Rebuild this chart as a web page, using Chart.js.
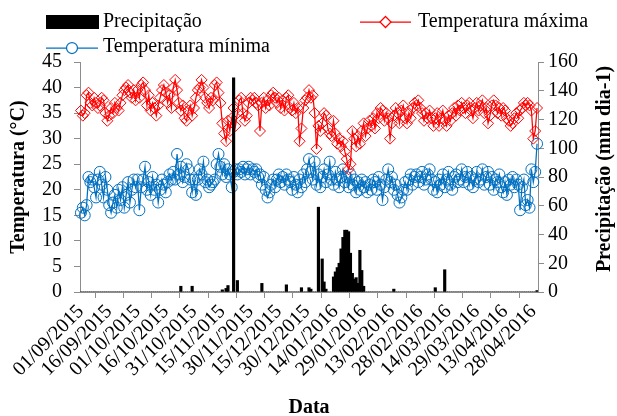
<!DOCTYPE html>
<html>
<head>
<meta charset="utf-8">
<script src="https://cdn.jsdelivr.net/npm/chart.js@4.4.0/dist/chart.umd.min.js"></script>
<style>
  html, body { margin: 0; padding: 0; background: #fff; }
  #wrap { width: 617px; height: 416px; }
</style>
</head>
<body>
<div id="wrap"><canvas id="chart" width="617" height="416"></canvas></div>
<script>
// daily series, 01/09/2015 -> 30/04/2016 (243 days), 15 values per row
const tMax = [
  35.5, 34.5, 35, 38.5, 39, 37, 36.5, 38, 37, 36, 36.5, 38, 37.5, 35, 33.5,
  34.5, 36, 35, 37, 36, 35.5, 37, 38.5, 39.5, 40, 40.5, 39, 38, 39.5, 37.5,
  39.5, 38, 40.5, 41, 39.5, 36.5, 38.5, 35.5, 37, 36, 34.5, 36.5, 38, 39.5, 40.5,
  39, 37, 38.5, 36, 40, 41.5, 39.5, 37, 35.5, 36.5, 34, 33.5, 35.5, 36.5, 34.5,
  36, 38, 39.5, 40, 41.5, 40, 38, 37, 36, 38, 37.5, 40.5, 41, 39, 37,
  33, 31, 29.5, 33.5, 31.5, 34, 36, 32.5, 35, 37.5, 38, 35, 33.5, 34.5, 37,
  38, 37.5, 38, 37, 36.5, 31.5, 37, 38, 36, 37.5, 36.5, 38.5, 39, 38, 37,
  38, 36, 37.5, 35.5, 38, 38.5, 36, 35.5, 37, 35, 36, 29.5, 32, 36, 37.5,
  38, 39.5, 38, 38.5, 35, 28, 32.5, 31.5, 33, 35, 34.5, 32, 31, 30.5, 33.5,
  31, 29, 30, 28.5, 29.5, 27.5, 26, 24, 25, 31.5, 30, 28.5, 30.5, 29, 31.5,
  33, 30.5, 32, 33.5, 32.5, 34, 32, 35, 34, 36, 35.5, 33.5, 35, 34, 30,
  33, 34.5, 36, 35, 33, 35.5, 36.5, 34, 33, 35, 34, 36, 37, 36.5, 37.5,
  36, 35, 33.5, 35, 34, 35.5, 34, 32.5, 34, 35, 32.5, 34, 35.5, 33.5, 32.5,
  34.5, 33.5, 35, 36, 34.5, 36.5, 35.5, 37, 36, 35, 36.5, 37, 35.5, 34, 36,
  37, 35.5, 36.5, 37.5, 35, 36, 33, 34.5, 36.5, 37.5, 36.5, 35, 36, 34.5, 36,
  35.5, 34, 33.5, 32.5, 33, 34, 35, 34, 35.5, 36, 37, 36.5, 37, 36.5, 35.5,
  30, 31.5, 36
];

const tMin = [
  15.5, 16.5, 15, 17, 22.5, 21.5, 22, 20.5, 18.5, 22, 23.5, 21, 18.5, 22.5, 20,
  17, 15.5, 17.5, 19, 16.5, 20, 18, 20.5, 16.5, 19, 21.5, 17.5, 20, 22, 20.5,
  22, 16, 20.5, 22, 24.5, 20, 21.5, 19, 22.5, 20, 21, 17.5, 20, 22, 21,
  19.5, 21.5, 23, 22, 23.5, 22, 27, 23, 24.5, 21.5, 22.5, 25, 24, 22, 19.5,
  22, 19, 22, 24, 23, 25.5, 21.5, 22, 20.5, 21, 21.5, 22, 25, 27, 24.5,
  23, 25, 22.5, 24, 23, 20.5, 23.5, 24, 23, 24, 23.5, 24.5, 23, 24, 24.5,
  23, 24, 23.5, 24, 22.5, 23, 21, 22.5, 20, 18.5, 19.5, 21, 22, 20.5, 22,
  23, 21.5, 22.5, 21, 23, 22, 21.5, 20, 22.5, 21, 19.5, 22, 20.5, 23, 21.5,
  24, 26, 23.5, 22, 25.5, 21, 23, 20.5, 22.5, 24, 21.5, 23, 25.5, 22, 21,
  23.5, 22, 20.5, 22.5, 24, 21.5, 22.5, 20.5, 23, 21, 22, 19.5, 21.5, 20, 22,
  20.5, 21.5, 19.5, 21, 20, 22, 21.5, 20, 22.5, 21, 18, 20.5, 22, 24, 21.5,
  22.5, 20, 21, 19, 17.5, 18.5, 20, 21.5, 20, 22, 23, 21, 22.5, 23, 21.5,
  22.5, 23.5, 21, 22, 23, 24, 22, 20, 21.5, 19.5, 22, 21, 23, 20.5, 22,
  23.5, 21, 20, 22.5, 23, 21.5, 22, 24, 21.5, 22.5, 23.5, 21, 22.5, 20.5, 22,
  23.5, 21.5, 22, 24, 21, 22.5, 23.5, 21, 22.5, 20, 22, 21.5, 23, 20.5, 19.5,
  21.5, 19, 22, 21, 22.5, 20.5, 22, 21, 16, 20.5, 22, 17, 18, 16.5, 24,
  21.5, 23.5, 29
];

const precip = [
  0, 0, 0, 0, 0, 0, 0, 0, 0, 0, 0, 0, 0, 0, 0,
  0, 0, 0, 0, 0, 0, 0, 0, 0, 0, 0, 0, 0, 0, 0,
  0, 0, 0, 0, 0, 0, 0, 0, 0, 0, 0, 0, 0, 0, 0,
  0, 0, 0, 0, 0, 0, 0, 0, 4, 0, 0, 0, 0, 0, 4,
  0, 0, 0, 0, 0, 0, 0, 0, 0, 0, 0, 0, 0, 0, 0,
  1.5, 0, 2.5, 4.5, 0, 0, 149, 0, 8, 0, 0, 0, 0, 0, 0,
  0, 0, 0, 0, 0, 0, 6, 0, 0, 0, 0, 0, 0, 0, 0,
  0, 0, 0, 0, 5, 0, 0, 0, 0, 0, 0, 0, 3, 0, 0,
  0, 3, 2, 0, 0, 0, 59, 0, 23, 7, 2, 0, 0, 0, 10.5,
  14, 17, 20, 30, 38, 43, 43, 42, 27, 13, 9, 10, 6, 29, 15,
  4, 0, 0, 0, 0, 0, 0, 0, 0, 0, 0, 0, 0, 0, 0,
  0, 2, 0, 0, 0, 0, 0, 0, 0, 0, 0, 0, 0, 0, 0,
  0, 0, 0, 0, 0, 0, 0, 0, 3, 0, 0, 0, 0, 15.5, 0,
  0, 0, 0, 0, 0, 0, 0, 0, 0, 0, 0, 0, 0, 0, 0,
  0, 0, 0, 0, 0, 0, 0, 0, 0, 0, 0, 0, 0, 0, 0,
  0, 0, 0, 0, 0, 0, 0, 0, 0, 0, 0, 0, 0, 0, 0,
  0, 0, 1
];

const tempTicks = [0, 5, 10, 15, 20, 25, 30, 35, 40, 45];
const precipTicks = [0, 20, 40, 60, 80, 100, 120, 140, 160];

// category labels dd/mm/yyyy, one per day
const dates = [];
const d0 = new Date(2015, 8, 1);
for (let i = 0; i < tMax.length; i++) {
  const d = new Date(d0.getFullYear(), d0.getMonth(), d0.getDate() + i);
  const dd = String(d.getDate()).padStart(2, "0");
  const mm = String(d.getMonth() + 1).padStart(2, "0");
  dates.push(`${dd}/${mm}/${d.getFullYear()}`);
}

/* =======================
   STYLE
======================= */
const FONT = "'Liberation Serif', 'Times New Roman', serif";
const RED = "#ff0000";
const BLUE = "#0070c0";
const AXIS = "#8c8c8c";

// legend + right axis title drawn by hand (Excel-like layout)
const extras = {
  id: "extras",
  afterDraw(chart) {
    const ctx = chart.ctx;
    ctx.save();
    ctx.font = `20px ${FONT}`;
    ctx.textBaseline = "middle";
    ctx.textAlign = "left";
    ctx.fillStyle = "#000";

    // Precipitação
    ctx.fillRect(46, 15, 53, 14);
    ctx.fillText("Precipitação", 103, 22);

    // Temperatura máxima
    ctx.strokeStyle = RED;
    ctx.lineWidth = 1.25;
    ctx.beginPath(); ctx.moveTo(360, 22); ctx.lineTo(411, 22); ctx.stroke();
    ctx.fillStyle = "#fff";
    ctx.beginPath();
    ctx.moveTo(385.5, 16.5); ctx.lineTo(391, 22); ctx.lineTo(385.5, 27.5); ctx.lineTo(380, 22);
    ctx.closePath(); ctx.fill(); ctx.stroke();
    ctx.fillStyle = "#000";
    ctx.fillText("Temperatura máxima", 418, 22);

    // Temperatura mínima
    ctx.strokeStyle = BLUE;
    ctx.beginPath(); ctx.moveTo(46, 48); ctx.lineTo(98, 48); ctx.stroke();
    ctx.fillStyle = "#fff";
    ctx.beginPath(); ctx.arc(72, 48, 5.5, 0, Math.PI * 2); ctx.fill(); ctx.stroke();
    ctx.fillStyle = "#000";
    ctx.fillText("Temperatura mínima", 103, 47);

    // right axis title, reads bottom to top
    ctx.font = `bold 20px ${FONT}`;
    ctx.textAlign = "center";
    ctx.translate(605, (chart.chartArea.top + chart.chartArea.bottom) / 2 - 8);
    ctx.rotate(-Math.PI / 2);
    ctx.fillText("Precipitação (mm dia-1)", 0, 0);
    ctx.restore();
  }
};

const axisGrid = { drawOnChartArea: false, drawTicks: true, tickLength: 6, color: AXIS, lineWidth: 1 };

new Chart(document.getElementById("chart"), {
  data: {
    labels: dates,
    datasets: [
      {
        type: "bar",
        label: "Precipitação",
        data: precip,
        yAxisID: "yP",
        backgroundColor: "#000",
        barThickness: 2.5,
        order: 0
      },
      {
        type: "line",
        label: "Temperatura máxima",
        data: tMax,
        yAxisID: "yT",
        borderColor: RED,
        borderWidth: 1.25,
        pointStyle: "rectRot",
        pointRadius: 5.5,
        pointBorderColor: RED,
        pointBackgroundColor: "transparent",
        pointBorderWidth: 1,
        tension: 0,
        order: 1
      },
      {
        type: "line",
        label: "Temperatura mínima",
        data: tMin,
        yAxisID: "yT",
        borderColor: BLUE,
        borderWidth: 1.25,
        pointStyle: "circle",
        pointRadius: 5.5,
        pointBorderColor: BLUE,
        pointBackgroundColor: "transparent",
        pointBorderWidth: 1,
        tension: 0,
        order: 2
      }
    ]
  },
  options: {
    responsive: false,
    animation: false,
    layout: { padding: { top: 62, left: 0, right: 0, bottom: 0 } },
    plugins: { legend: { display: false }, tooltip: { enabled: false } },
    scales: {
      x: {
        type: "category",
        offset: true,
        grid: { ...axisGrid, offset: true },
        border: { color: AXIS },
        ticks: {
          autoSkip: false,
          minRotation: 45,
          maxRotation: 45,
          padding: 2,
          color: "#000",
          font: { family: FONT, size: 20 },
          callback: (v, i) => (i % 15 === 0 ? dates[i] : null)
        },
        title: {
          display: true,
          text: "Data",
          color: "#000",
          font: { family: FONT, size: 20, weight: "bold", lineHeight: 0.8 },
          padding: { top: 0, bottom: 0 }
        },
        afterFit: s => { s.height = 124; }
      },
      yT: {
        position: "left",
        min: 0,
        max: 45,
        afterBuildTicks: s => { s.ticks = tempTicks.map(v => ({ value: v })); },
        grid: axisGrid,
        border: { color: AXIS },
        ticks: { autoSkip: false, color: "#000", padding: 12, font: { family: FONT, size: 20 } },
        title: {
          display: true,
          text: "Temperatura (°C)",
          color: "#000",
          font: { family: FONT, size: 20, weight: "bold", lineHeight: 1.2 },
          padding: { top: 7, bottom: 0 }
        },
        afterFit: s => { s.width = 80; }
      },
      yP: {
        position: "right",
        min: 0,
        max: 160,
        afterBuildTicks: s => { s.ticks = precipTicks.map(v => ({ value: v })); },
        grid: axisGrid,
        border: { color: AXIS },
        ticks: { autoSkip: false, color: "#000", padding: 4, font: { family: FONT, size: 20 } },
        afterFit: s => { s.width = 79; }
      }
    }
  },
  plugins: [extras]
});
</script>
</body>
</html>
